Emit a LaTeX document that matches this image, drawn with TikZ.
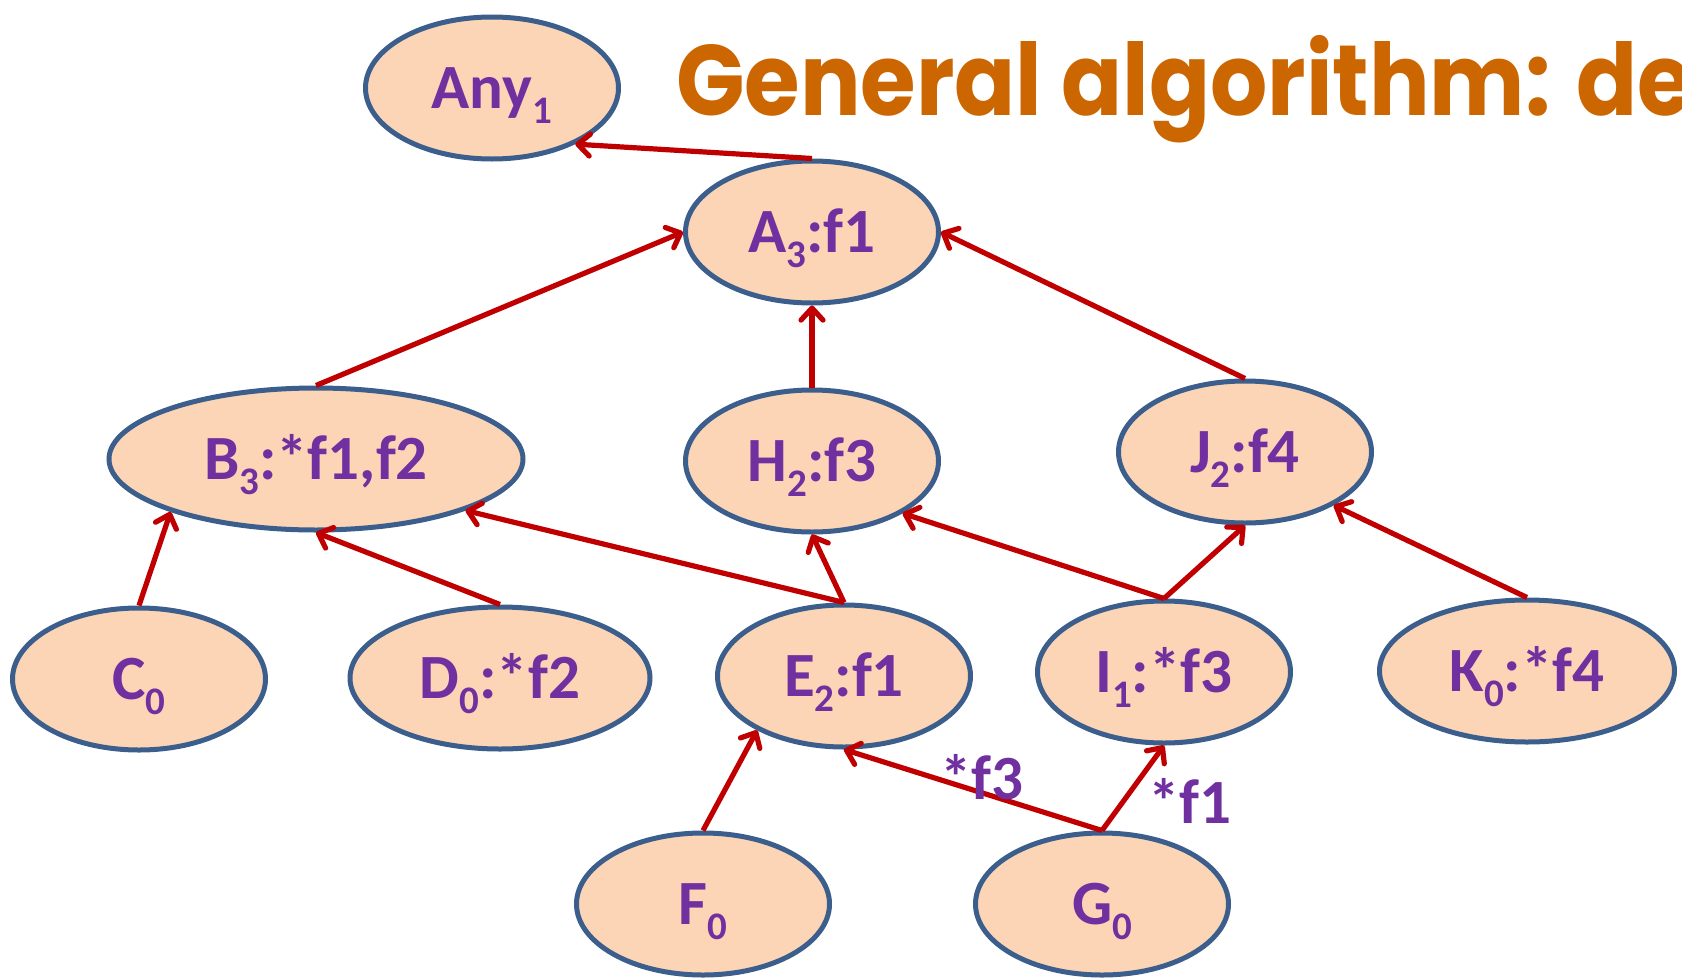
\documentclass[tikz,border=0pt]{standalone}
\usepackage{fontspec}
\usepackage{xcolor}
\usepackage{tikz}
\usetikzlibrary{arrows.meta,shapes.geometric}

\newfontfamily\lblfont{Carlito}
\newfontfamily\headfont[FakeStretch=0.9]{Poppins}
\newcommand{\rank}[1]{\raisebox{-15pt}{\fontsize{39}{39}\selectfont #1}}

\definecolor{peach}{HTML}{FBD5B5}
\definecolor{rimblue}{HTML}{3B5E8C}
\definecolor{lblpurple}{HTML}{7030A0}
\definecolor{arrred}{HTML}{C00000}
\definecolor{headorange}{HTML}{CC6600}

\begin{document}
\begin{tikzpicture}[
  x=1pt, y=-1pt,
  fn/.style={ellipse, draw=rimblue, fill=peach, line width=5pt, inner sep=0pt,
    minimum width=253pt, minimum height=142pt, text=lblpurple,
    font=\lblfont\bfseries\fontsize{63}{70}\selectfont, text height=40pt, text depth=0pt},
  tag/.style={inner sep=0pt, text=lblpurple,
    font=\lblfont\bfseries\fontsize{63}{70}\selectfont, text height=40pt, text depth=0pt},
  headline/.style={inner sep=0pt, text=headorange, font=\headfont\bfseries\fontsize{100}{110}\selectfont},
  arrow/.style={-{Straight Barb[length=12pt,width=22pt,round]}, line width=5.2pt, draw=arrred}
]
\useasboundingbox (0,0) rectangle (1682,980);

% title, cut at the right edge
\begin{scope}
\clip (0,0) rectangle (1682,980);
\node[headline, anchor=base west] (head) at (676,115) {General algorithm: de};
\end{scope}

% nodes
\node[fn] (any) at (492,88) {Any\rank{1}};
\node[fn] (a3) at (812,232) {A\rank{3}:f1};
\node[fn, minimum width=414pt] (b3) at (316,459) {B\rank{3}:*f1,f2};
\node[fn] (h2) at (812,461) {H\rank{2}:f3};
\node[fn] (j2) at (1245,452) {J\rank{2}:f4};
\node[fn] (c0) at (139,679) {C\rank{0}};
\node[fn, minimum width=300pt] (d0) at (500,678) {D\rank{0}:*f2};
\node[fn] (e2) at (844,676) {E\rank{2}:f1};
\node[fn] (i1) at (1164,672) {I\rank{1}:*f3};
\node[fn, minimum width=295pt] (k0) at (1527,671) {K\rank{0}:*f4};
\node[fn] (f0) at (703,904) {F\rank{0}};
\node[fn] (g0) at (1102,904) {G\rank{0}};

% edges
\draw[arrow] (a3.north) -- (any.-34);
\draw[arrow] (b3.north) -- (a3.west);
\draw[arrow] (h2.north) -- (a3.south);
\draw[arrow] (j2.north) -- (a3.east);
\draw[arrow] (c0.north) -- (b3.200);
\draw[arrow] (d0.north) -- (b3.south);
\draw[arrow] (e2.north) -- (b3.-19);
\draw[arrow] (e2.north) -- (h2.south);
\draw[arrow] (i1.north) -- (h2.-30);
\draw[arrow] (i1.north) -- (j2.south);
\draw[arrow] (k0.north) -- (j2.-31);
\draw[arrow] (f0.north) -- (e2.212);
\draw[arrow] (g0.north) -- node[tag, pos=0.465, yshift=13pt] (s3) {*f3} (e2.south);
\draw[arrow] (g0.north) -- node[tag, pos=0.32, xshift=68pt] (s1) {*f1} (i1.south);
\end{tikzpicture}
\end{document}
